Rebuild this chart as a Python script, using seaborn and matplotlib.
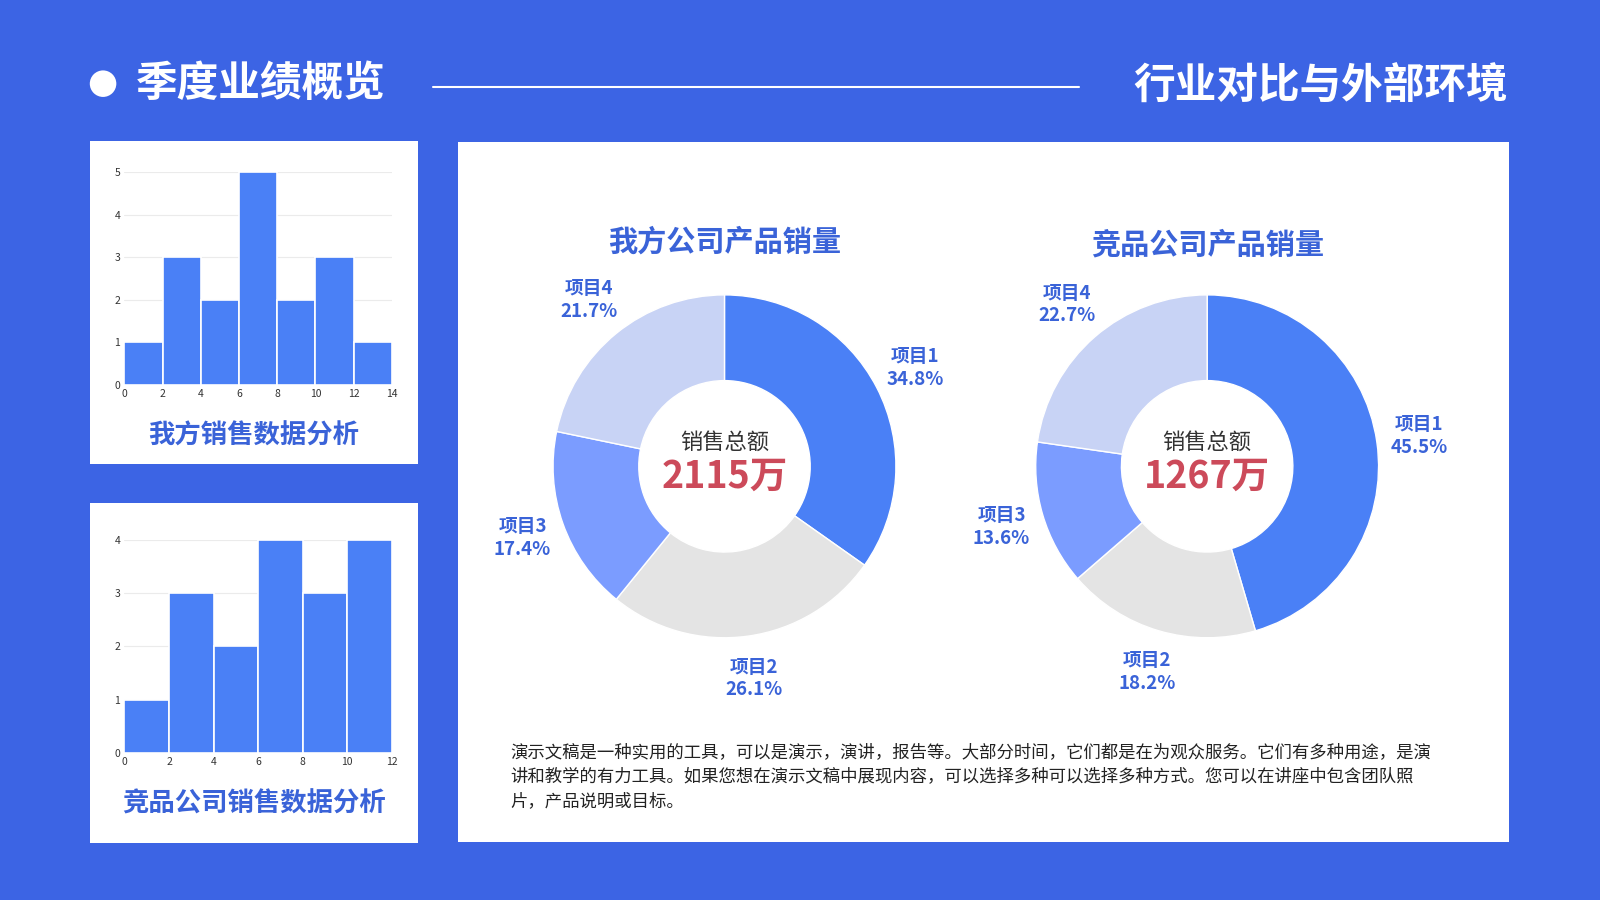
import numpy as np
import pandas as pd
import matplotlib
matplotlib.use("Agg")
import matplotlib.pyplot as plt
from matplotlib.patches import Rectangle, Ellipse
import seaborn as sns

# ---------------- data ----------------
header_left = "季度业绩概览"
header_right = "行业对比与外部环境"

hist1_title = "我方销售数据分析"
hist1_edges = [0, 2, 4, 6, 8, 10, 12, 14]
hist1_counts = [1, 3, 2, 5, 2, 3, 1]

hist2_title = "竞品公司销售数据分析"
hist2_edges = [0, 2, 4, 6, 8, 10, 12]
hist2_counts = [1, 3, 2, 4, 3, 4]

pie_items = ["项目1", "项目2", "项目3", "项目4"]
pie1_title = "我方公司产品销量"
pie1_values = [8, 6, 4, 5]
pie1_total = "2115万"
pie2_title = "竞品公司产品销量"
pie2_values = [10, 4, 3, 5]
pie2_total = "1267万"
center_label = "销售总额"

paragraph_lines = [
    "演示文稿是一种实用的工具，可以是演示，演讲，报告等。大部分时间，它们都是在为观众服务。它们有多种用途，是演",
    "讲和教学的有力工具。如果您想在演示文稿中展现内容，可以选择多种可以选择多种方式。您可以在讲座中包含团队照",
    "片，产品说明或目标。",
]

# ---------------- style ----------------
BG = "#3c64e4"
BAR = "#4a80f6"
TITLE_BLUE = "#3a63d8"
PIE_COLORS = ["#4a80f6", "#e4e4e4", "#7b9cff", "#c8d3f5"]
RED = "#cc4a5a"

sns.set_theme(style="white")
plt.rcParams["font.family"] = ["Noto Sans CJK SC", "DejaVu Sans"]

W, H = 1568.0, 882.0  # reference pixel frame


def fx(x):
    return x / W


def fy(y):
    return 1 - y / H


fig = plt.figure(figsize=(16, 9), dpi=100, facecolor=BG)

# white panels (drawn beneath the axes)
for (x0, y0, x1, y1) in [(88, 138, 410, 455), (88, 493, 410, 826), (449, 139, 1479, 825)]:
    fig.patches.append(Rectangle((fx(x0), fy(y1)), fx(x1) - fx(x0), fy(y0) - fy(y1),
                                 transform=fig.transFigure, facecolor="white",
                                 edgecolor="none", zorder=-5))

# header
fig.patches.append(Ellipse((fx(101), fy(82)), 26 / W, 26 / H, transform=fig.transFigure,
                           facecolor="white", edgecolor="none"))
fig.text(fx(133), fy(82), header_left, color="white", fontsize=30, fontweight="black",
         ha="left", va="center")
fig.text(fx(1478), fy(85), header_right, color="white", fontsize=30, fontweight="black",
         ha="right", va="center")
fig.add_artist(plt.Line2D([fx(424), fx(1057)], [fy(85), fy(85)], color="white", lw=1.5,
                          transform=fig.transFigure))


def draw_hist(rect, edges, counts, title, title_y):
    ax = fig.add_axes(rect)
    centers = [(a + b) / 2 for a, b in zip(edges[:-1], edges[1:])]
    df = pd.DataFrame({"x": centers, "w": counts})
    sns.histplot(data=df, x="x", weights="w", bins=list(edges), ax=ax, color=BAR,
                 edgecolor="white", linewidth=1.2, alpha=1)
    ax.set_xlim(edges[0], edges[-1])
    ax.set_ylim(0, max(counts))
    ax.set_xticks(edges)
    ax.set_xticklabels([f"{int(e)}" for e in edges])
    ax.set_yticks(range(0, max(counts) + 1))
    ax.set_xlabel("")
    ax.set_ylabel("")
    ax.tick_params(axis="both", length=0, labelsize=7.5, labelcolor="#333333", pad=3)
    ax.yaxis.grid(True, color="#ebebeb", lw=0.8)
    ax.set_axisbelow(True)
    for s in ax.spines.values():
        s.set_visible(False)
    ax.patch.set_alpha(0)
    fig.text(fx(249), fy(title_y), title, color=TITLE_BLUE, fontsize=19,
             fontweight="black", ha="center", va="center")


draw_hist([fx(122), fy(377), fx(384) - fx(122), fy(169) - fy(377)],
          hist1_edges, hist1_counts, hist1_title, 427)
draw_hist([fx(122), fy(738), fx(384) - fx(122), fy(529) - fy(738)],
          hist2_edges, hist2_counts, hist2_title, 788)


def draw_pie(cx, cy, values, title, title_y, total):
    R = 168
    ax = fig.add_axes([fx(cx - R), fy(cy + R), 2 * R / W, 2 * R / H])
    vals = np.asarray(values, dtype=float)
    pcts = vals / vals.sum() * 100
    labels = [f"{n}\n{p:.1f}%" for n, p in zip(pie_items, pcts)]
    wedges, texts = ax.pie(vals, colors=PIE_COLORS, startangle=90, counterclock=False,
                           radius=1, labels=labels, labeldistance=1.25,
                           wedgeprops=dict(width=0.5, edgecolor="white", linewidth=1),
                           textprops=dict(color=TITLE_BLUE, fontsize=13.5,
                                          fontweight="bold", linespacing=1.25))
    for t in texts:
        t.set_ha("center")
        t.set_va("center")
    ax.set_xlim(-1, 1)
    ax.set_ylim(-1, 1)
    ax.set_aspect("equal")
    ax.axis("off")
    ax.text(0, 0.14, center_label, ha="center", va="center", fontsize=16, color="#333333")
    ax.text(0, -0.06, total, ha="center", va="center", fontsize=27, color=RED,
            fontweight="bold")
    fig.text(fx(cx), fy(title_y), title, color=TITLE_BLUE, fontsize=21,
             fontweight="black", ha="center", va="center")


draw_pie(710, 457, pie1_values, pie1_title, 237, pie1_total)
draw_pie(1183, 457, pie2_values, pie2_title, 240, pie2_total)

for i, line in enumerate(paragraph_lines):
    fig.text(fx(500), fy(737 + 24 * i), line, color="#222222", fontsize=12.5,
             ha="left", va="center")

fig.savefig("out.png", dpi=100, facecolor=BG)
